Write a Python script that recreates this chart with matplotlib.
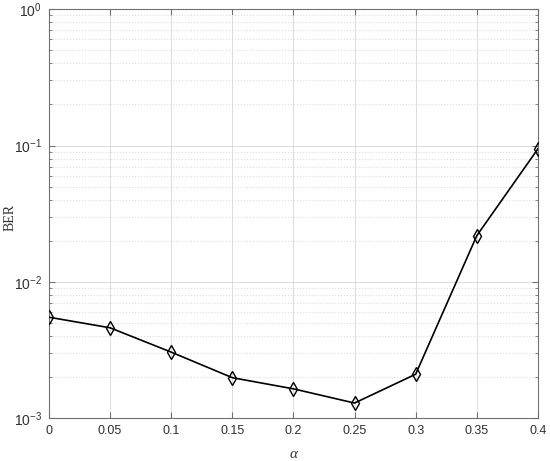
import numpy as np
import matplotlib.pyplot as plt
from matplotlib.ticker import LogLocator, NullFormatter

# data
alpha = [0, 0.05, 0.1, 0.15, 0.2, 0.25, 0.3, 0.35, 0.4]
ber = [5.5e-3, 4.6e-3, 3.05e-3, 1.98e-3, 1.64e-3, 1.29e-3, 2.1e-3, 2.18e-2, 9.45e-2]
xticks = [0, 0.05, 0.1, 0.15, 0.2, 0.25, 0.3, 0.35, 0.4]
xticklabels = ["0", "0.05", "0.1", "0.15", "0.2", "0.25", "0.3", "0.35", "0.4"]

plt.rcParams['font.family'] = ['Liberation Sans', 'DejaVu Sans']
plt.rcParams['mathtext.fontset'] = 'custom'
plt.rcParams['mathtext.rm'] = 'Liberation Sans'
plt.rcParams['mathtext.it'] = 'Liberation Sans:italic'

fig = plt.figure(figsize=(5.5, 4.61), dpi=100)
ax = fig.add_axes([0.089, 0.093, 0.889, 0.887])

ax.plot(alpha, ber, color='black', linewidth=1.2, marker='d', markersize=7.5,
        markerfacecolor='none', markeredgecolor='black', markeredgewidth=1.0, zorder=3)

ax.set_yscale('log')
ax.set_xlim(0, 0.4)
ax.set_ylim(1e-3, 1)
ax.set_xticks(xticks)
ax.set_xticklabels(xticklabels)
ax.yaxis.set_major_locator(LogLocator(base=10, numticks=10))
ax.yaxis.set_minor_locator(LogLocator(base=10, subs=np.arange(2, 10), numticks=20))
ax.yaxis.set_minor_formatter(NullFormatter())

ax.grid(True, which='major', color='#dcdcdc', linestyle='-', linewidth=0.7)
ax.grid(True, which='minor', axis='y', color='#dcdcdc', linestyle=':', linewidth=0.8)

edge = '#707070'
for s in ax.spines.values():
    s.set_color(edge)
    s.set_linewidth(0.8)
ax.tick_params(which='both', direction='in', top=True, right=True, colors=edge,
               labelcolor='#303030', labelsize=9, pad=5)
ax.tick_params(axis='y', which='major', labelsize=10)
ax.tick_params(which='major', length=4)
ax.tick_params(which='minor', length=2)

ax.set_xlabel('α', fontsize=11, family=['Liberation Serif', 'DejaVu Serif'],
              style='italic', color='#303030')
ax.set_ylabel('BER', fontsize=10, family=['Liberation Serif', 'DejaVu Serif'], color='#303030')
ax.xaxis.set_label_coords(0.5, -0.072)
ax.yaxis.set_label_coords(-0.066, 0.49)

fig.savefig('out.png', dpi=100)
